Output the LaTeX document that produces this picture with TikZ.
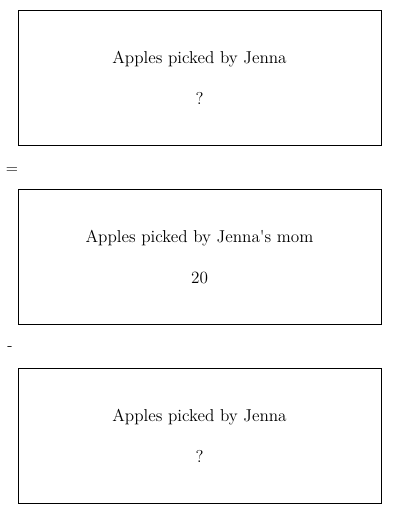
\documentclass[tikz,border=0pt]{standalone}
\begin{document}
\begin{tikzpicture}[x=0.75pt,y=-0.75pt,
  box/.style={draw=black, line width=0.75pt, minimum width=363*0.75pt, minimum height=135*0.75pt, inner sep=0pt},
  lbl/.style={font=\fontsize{12.9}{15}\selectfont, inner sep=0pt},
  op/.style={font=\fontsize{12}{14}\selectfont, inner sep=0pt}]
\useasboundingbox (0,0) rectangle (400,514);
\node[box] (b1) at (199.5,77.5) {};
\node[box] (b2) at (199.5,256.5) {};
\node[box] (b3) at (199.5,435.5) {};
\node[lbl] (t1) at (199.5,59.5) {Apples picked by Jenna};
\node[lbl] (v1) at (199.5,98.5) {?};
\node[lbl] (t2) at (199.5,238.5) {Apples picked by Jenna\textquotesingle s mom};
\node[lbl] (v2) at (199.5,277.5) {20};
\node[lbl] (t3) at (199.5,417.5) {Apples picked by Jenna};
\node[lbl] (v3) at (199.5,456.5) {?};
\node[op] (eq) at (12,171) {=};
\node[op] (mi) at (10,349) {-};
\end{tikzpicture}
\end{document}
